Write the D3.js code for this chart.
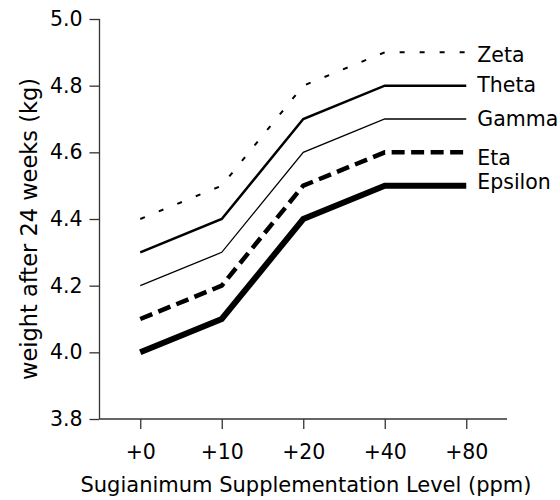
<!DOCTYPE html>
<html>
<head>
<meta charset="utf-8">
<script src="https://cdn.jsdelivr.net/npm/d3@7"></script>
<style>
  html, body { margin: 0; padding: 0; background: #fff; }
  svg { display: block; }
  text { font-family: "DejaVu Sans", sans-serif; fill: #000; }
</style>
</head>
<body>
<svg id="chart" width="560" height="500"></svg>
<script>
const levels = ["+0", "+10", "+20", "+40", "+80"];
const seriesNames = ["Zeta", "Theta", "Gamma", "Eta", "Epsilon"];
const zeta    = [4.4, 4.5, 4.8, 4.9, 4.9];
const theta   = [4.3, 4.4, 4.7, 4.8, 4.8];
const gamma   = [4.2, 4.3, 4.6, 4.7, 4.7];
const eta     = [4.1, 4.2, 4.5, 4.6, 4.6];
const epsilon = [4.0, 4.1, 4.4, 4.5, 4.5];
const yTicks = [3.8, 4.0, 4.2, 4.4, 4.6, 4.8, 5.0];
const xTitle = "Sugianimum Supplementation Level (ppm)";
const yTitle = "weight after 24 weeks (kg)";

const seriesValues = [zeta, theta, gamma, eta, epsilon];
// styles (not data)
const styles = {
  Zeta:    { width: 2,   dash: "5,15",   nudge: 2.4 },
  Theta:   { width: 2.5, dash: null,     nudge: -0.7 },
  Gamma:   { width: 1.3, dash: null,     nudge: -0.7 },
  Eta:     { width: 4.5, dash: "13,6.5", nudge: 5.0 },
  Epsilon: { width: 6,   dash: null,     nudge: -4.0 }
};

const svg = d3.select("#chart");
const x0 = 99.5, x1 = 507, yTop = 19, yBot = 419;

const x = d3.scalePoint().domain(levels).range([x0, x1]).padding(0.5);
const y = d3.scaleLinear().domain([3.8, 5.0]).range([yBot, yTop]);

// Y axis
const yAxis = svg.append("g").attr("transform", `translate(${x0},0)`)
  .call(d3.axisLeft(y).tickValues(yTicks).tickFormat(d3.format(".1f")).tickSize(10).tickPadding(7).tickSizeOuter(0));
// X axis
const xAxis = svg.append("g").attr("transform", `translate(0,${yBot})`)
  .call(d3.axisBottom(x).tickSize(10).tickPadding(15).tickSizeOuter(0));

[yAxis, xAxis].forEach(g => {
  g.select(".domain").attr("stroke", "#333").attr("stroke-width", 1.3);
  g.selectAll(".tick line").attr("stroke", "#333").attr("stroke-width", 1.3);
  g.selectAll(".tick text").attr("font-size", 20.5).attr("font-family", "DejaVu Sans").attr("fill", "#000");
});
xAxis.select(".domain").attr("d", `M${x0},0H${x1}`);
yAxis.select(".domain").attr("d", `M0,${yBot}V${yTop}`);

// Lines
const line = d3.line().x((d, i) => x(levels[i])).y(d => y(d)).curve(d3.curveLinear);
seriesNames.forEach((name, k) => {
  const st = styles[name];
  svg.append("path")
    .datum(seriesValues[k])
    .attr("d", line)
    .attr("fill", "none")
    .attr("stroke", "#000")
    .attr("stroke-width", st.width)
    .attr("stroke-dasharray", st.dash)
    .attr("stroke-linejoin", "miter");
  const vals = seriesValues[k];
  svg.append("text")
    .attr("x", x(levels[levels.length - 1]) + 11)
    .attr("y", y(vals[vals.length - 1]) + st.nudge)
    .attr("dy", "0.36em")
    .attr("font-size", 20.5)
    .text(name);
});

// Axis titles
svg.append("text")
  .attr("x", 306).attr("y", 492)
  .attr("text-anchor", "middle")
  .attr("font-size", 21)
  .text(xTitle);

svg.append("text")
  .attr("transform", `translate(37,229) rotate(-90)`)
  .attr("text-anchor", "middle")
  .attr("font-size", 22.5)
  .text(yTitle);
</script>
</body>
</html>
